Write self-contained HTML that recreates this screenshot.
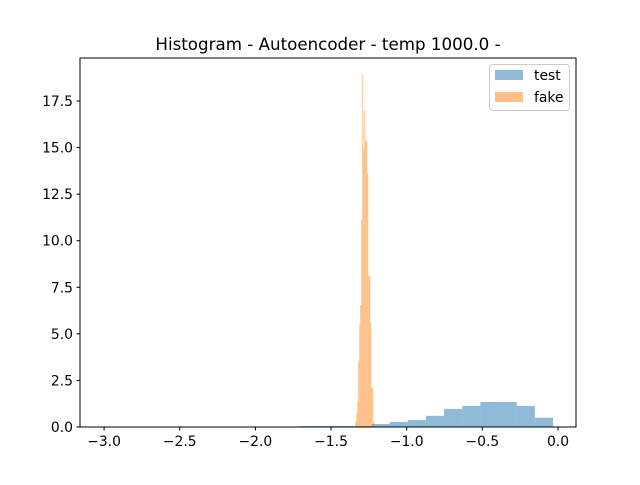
<!DOCTYPE html>
<html><head><meta charset="utf-8"><style>
body{margin:0;background:#fff}
svg{font-family:"DejaVu Sans","Liberation Sans",sans-serif}
</style></head><body>
<svg id="chart" width="640" height="480">
<rect width="640" height="480" fill="#fff"/>
<text x="328" y="50" text-anchor="middle" font-size="16.7">Histogram - Autoencoder - temp 1000.0 -</text>
<g id="marks"></g>
<rect x="80" y="58" width="496" height="369" fill="none" stroke="#000" stroke-width="1"/>
<g id="axes"></g>
<g>
<rect x="489.5" y="64.5" width="80" height="46" rx="3" fill="#fff" fill-opacity="0.8" stroke="#ccc"/>
<rect x="495" y="70" width="28" height="10" fill="#8fbbd9"/>
<text x="534" y="80" font-size="13.9">test</text>
<rect x="495" y="92" width="28" height="10" fill="#ffbf86"/>
<text x="534" y="102" font-size="13.9">fake</text>
</g>
</svg>
<script>
const testStart = -3.033;
const testBinWidth = 0.12;
const testHeights = [0,0,0,0,0,0,0,0,0,0,0,0.05,0.05,0.05,0.05,0.16,0.27,0.37,0.6,0.97,1.13,1.34,1.34,1.13,0.5];
const fakeStart = -1.34;
const fakeBinWidth = 0.0066;
const fakeHeights = [0.25,0.75,1.4,3.55,5.5,6.55,11.1,18.9,14.96,17.0,15.35,15.35,13.6,8.1,8.1,5.6,2.1,2.1,0.25];
const xTicks = [-3.0,-2.5,-2.0,-1.5,-1.0,-0.5,0.0];
const yTicks = [0.0,2.5,5.0,7.5,10.0,12.5,15.0,17.5];

const X = v => 558 + 151.3 * v;
const Y = v => 427 - 18.63 * v;
const NS = "http://www.w3.org/2000/svg";
const marks = document.getElementById('marks');
const axes = document.getElementById('axes');

function drawHist(start, w, hs, color, name) {
  hs.forEach((h, i) => {
    if (h <= 0) return;
    const x0 = X(start + i * w), x1 = X(start + (i + 1) * w);
    const r = document.createElementNS(NS, 'rect');
    r.setAttribute('x', x0); r.setAttribute('width', Math.max(x1 - x0, 0.5));
    r.setAttribute('y', Y(h)); r.setAttribute('height', Y(0) - Y(h));
    r.setAttribute('fill', color); r.setAttribute('fill-opacity', '0.5');
    
    
    marks.appendChild(r);
  });
}
drawHist(testStart, testBinWidth, testHeights, '#1f77b4', 'test');
drawHist(fakeStart, fakeBinWidth, fakeHeights, '#ff7f0e', 'fake');

xTicks.forEach(t => {
  const x = X(t);
  const l = document.createElementNS(NS, 'line');
  l.setAttribute('x1', x); l.setAttribute('x2', x); l.setAttribute('y1', 427); l.setAttribute('y2', 430.5);
  l.setAttribute('stroke', '#000');
  
  
  axes.appendChild(l);
  const tx = document.createElementNS(NS, 'text');
  tx.setAttribute('x', x); tx.setAttribute('y', 446); tx.setAttribute('text-anchor', 'middle'); tx.setAttribute('font-size', '13.9');
  tx.textContent = (t < 0 ? '\u2212' : '') + Math.abs(t).toFixed(1);
  
  
  axes.appendChild(tx);
});
yTicks.forEach(t => {
  const y = Y(t);
  const l = document.createElementNS(NS, 'line');
  l.setAttribute('x1', 76.5); l.setAttribute('x2', 80); l.setAttribute('y1', y); l.setAttribute('y2', y);
  l.setAttribute('stroke', '#000');
  
  
  axes.appendChild(l);
  const tx = document.createElementNS(NS, 'text');
  tx.setAttribute('x', 73); tx.setAttribute('y', y + 5); tx.setAttribute('text-anchor', 'end'); tx.setAttribute('font-size', '13.9');
  tx.textContent = t.toFixed(1);
  
  
  axes.appendChild(tx);
});
</script>
</body></html>
